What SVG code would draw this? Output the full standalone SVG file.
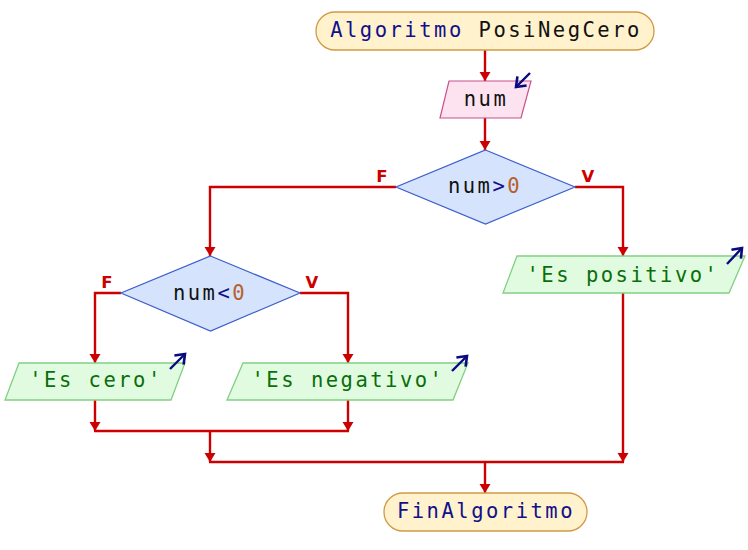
<svg xmlns="http://www.w3.org/2000/svg" width="748" height="550" viewBox="0 0 748 550">
<style>
.t{font-family:"DejaVu Sans Mono","Liberation Mono",monospace;font-size:20.5px;letter-spacing:2.5px;text-anchor:middle}
.kw{fill:#10108a}
.id{fill:#111111}
.num{fill:#b8602a}
.str{fill:#0a6e0a}
.term{fill:#fff2cc;stroke:#d09a45;stroke-width:1.3}
.inp{fill:#fde2f0;stroke:#c8508c;stroke-width:1.2}
.dec{fill:#d5e3fc;stroke:#3d5fcc;stroke-width:1.2}
.out{fill:#e1fbe0;stroke:#82cf82;stroke-width:1.3}
.c{fill:none;stroke:#cc0000;stroke-width:2.4}
.lab{font-family:"DejaVu Sans","Liberation Sans",sans-serif;font-size:16.5px;font-weight:bold;fill:#cc0000;text-anchor:middle}
.io{fill:none;stroke:#0a0a80;stroke-width:2.4}
</style>
<defs>
<marker id="ah" markerUnits="userSpaceOnUse" markerWidth="12" markerHeight="12" refX="9" refY="0" viewBox="-1 -6 12 12" orient="auto">
<path d="M0,-5.5 L9,0 L0,5.5 z" fill="#cc0000"/>
</marker>
<marker id="bh" markerUnits="userSpaceOnUse" markerWidth="16" markerHeight="16" refX="0" refY="0" viewBox="-12 -8 16 16" orient="auto">
<path d="M-8.5,-6.5 L0,0 L-8.5,6.5" fill="none" stroke="#0a0a80" stroke-width="2.6"/>
</marker>
</defs>

<g id="connectors">
<path class="c" d="M485,50 V81" marker-end="url(#ah)"/>
<path class="c" d="M485,118 V150" marker-end="url(#ah)"/>
<path class="c" d="M396,187 H210 V256" marker-end="url(#ah)"/>
<path class="c" d="M575,187 H623 V256" marker-end="url(#ah)"/>
<path class="c" d="M121,293 H95 V363" marker-end="url(#ah)"/>
<path class="c" d="M300,293 H348 V363" marker-end="url(#ah)"/>
<path class="c" d="M95,400 V431" marker-end="url(#ah)"/>
<path class="c" d="M348,400 V431" marker-end="url(#ah)"/>
<path class="c" d="M94,431 H349"/>
<path class="c" d="M210,431 V462" marker-end="url(#ah)"/>
<path class="c" d="M623,293 V462" marker-end="url(#ah)"/>
<path class="c" d="M209,462 H624"/>
<path class="c" d="M485,462 V493" marker-end="url(#ah)"/>
<text class="lab" x="382" y="182">F</text>
<text class="lab" x="588" y="182">V</text>
<text class="lab" x="107" y="288">F</text>
<text class="lab" x="312" y="288">V</text>
</g>

<g id="start">
<rect class="term" x="316" y="12" width="338" height="38" rx="19"/>
<text class="t" x="486" y="37"><tspan class="kw">Algoritmo</tspan><tspan class="id"> PosiNegCero</tspan></text>
</g>

<g id="read-num">
<polygon class="inp" points="449,81 531,81 521,118 440,118"/>
<text class="t id" x="486" y="106">num</text>
<path class="io" d="M530,73 L516,87" marker-end="url(#bh)"/>
</g>

<g id="cond1">
<polygon class="dec" points="485.5,150 575,187 485.5,224 396,187"/>
<text class="t" x="485" y="193"><tspan class="id">num</tspan><tspan class="kw">&gt;</tspan><tspan class="num">0</tspan></text>
</g>

<g id="out-positivo">
<polygon class="out" points="517,256 745,256 729,293 503,293"/>
<text class="t str" x="623" y="282">'Es positivo'</text>
<path class="io" d="M727,264 L742,248" marker-end="url(#bh)"/>
</g>

<g id="cond2">
<polygon class="dec" points="210.5,256 300,293 210.5,331 121,293"/>
<text class="t" x="210" y="300"><tspan class="id">num</tspan><tspan class="kw">&lt;</tspan><tspan class="num">0</tspan></text>
</g>

<g id="out-cero">
<polygon class="out" points="19,363 185,363 171,400 5,400"/>
<text class="t str" x="96" y="387">'Es cero'</text>
<path class="io" d="M170,369 L185,354" marker-end="url(#bh)"/>
</g>

<g id="out-negativo">
<polygon class="out" points="243,363 468,363 453,400 227,400"/>
<text class="t str" x="348" y="387">'Es negativo'</text>
<path class="io" d="M452,371 L467,356" marker-end="url(#bh)"/>
</g>

<g id="end">
<rect class="term" x="384" y="493" width="203" height="38" rx="19"/>
<text class="t kw" x="486" y="518">FinAlgoritmo</text>
</g>
</svg>
